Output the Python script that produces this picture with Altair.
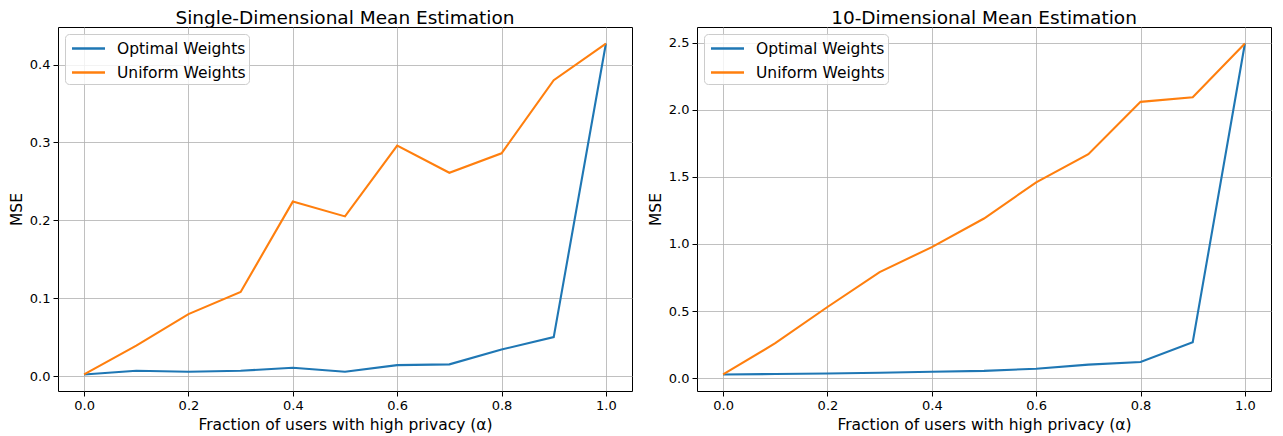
import altair as alt
import pandas as pd

# ---- data ----
alpha = [0.0, 0.1, 0.2, 0.3, 0.4, 0.5, 0.6, 0.7, 0.8, 0.9, 1.0]
single_optimal = [0.002, 0.0068, 0.0055, 0.0068, 0.0106, 0.0055, 0.014, 0.015, 0.034, 0.050, 0.427]
single_uniform = [0.002, 0.039, 0.0795, 0.108, 0.224, 0.205, 0.296, 0.261, 0.286, 0.380, 0.427]
multi_optimal = [0.027, 0.030, 0.034, 0.040, 0.047, 0.054, 0.070, 0.100, 0.120, 0.267, 2.495]
multi_uniform = [0.027, 0.26, 0.53, 0.79, 0.977, 1.19, 1.46, 1.67, 2.06, 2.095, 2.495]

series_names = ["Optimal Weights", "Uniform Weights"]
series_colors = ["#1f77b4", "#ff7f0e"]
x_ticks = [0.0, 0.2, 0.4, 0.6, 0.8, 1.0]
single_y_ticks = [0.0, 0.1, 0.2, 0.3, 0.4]
multi_y_ticks = [0.0, 0.5, 1.0, 1.5, 2.0, 2.5]
titles = ["Single-Dimensional Mean Estimation", "10-Dimensional Mean Estimation"]
x_title = "Fraction of users with high privacy (α)"
y_title = "MSE"

FONT = "DejaVu Sans"


def make_df(opt, uni):
    rows = []
    for a, v in zip(alpha, opt):
        rows.append({"alpha": a, "mse": v, "series": series_names[0]})
    for a, v in zip(alpha, uni):
        rows.append({"alpha": a, "mse": v, "series": series_names[1]})
    return pd.DataFrame(rows)


def padded(values):
    lo, hi = min(values), max(values)
    m = (hi - lo) * 0.05
    return [lo - m, hi + m]


def panel(opt, uni, title, yticks):
    df = make_df(opt, uni)
    ydom = padded(opt + uni)
    xdom = padded(alpha)
    return alt.Chart(
        df,
        title=alt.Title(title, fontSize=18.5, font=FONT, fontWeight="normal",
                        color="#000000", offset=0),
    ).mark_line(strokeWidth=2.1).encode(
        x=alt.X("alpha:Q",
                scale=alt.Scale(domain=xdom, nice=False, zero=False),
                axis=alt.Axis(values=x_ticks, format=".1f", title=x_title)),
        y=alt.Y("mse:Q",
                scale=alt.Scale(domain=ydom, nice=False, zero=False),
                axis=alt.Axis(values=yticks, format=".1f", title=y_title)),
        color=alt.Color("series:N",
                        scale=alt.Scale(domain=series_names, range=series_colors),
                        title=None,
                        legend=alt.Legend(orient="top-left", offset=7,
                                          symbolType="M-1.65,0H1.65",
                                          symbolSize=400,
                                          symbolStrokeWidth=2.6,
                                          symbolOffset=9,
                                          labelFontSize=15.5, labelFont=FONT,
                                          labelColor="#000000",
                                          fillColor="rgba(255,255,255,0.8)",
                                          strokeColor="#cccccc",
                                          cornerRadius=4, padding=3,
                                          rowPadding=4, labelOffset=17)),
        order=alt.Order("alpha:Q"),
    ).properties(width=574, height=364)


left = panel(single_optimal, single_uniform, titles[0], single_y_ticks)
right = panel(multi_optimal, multi_uniform, titles[1], multi_y_ticks)

chart = alt.hconcat(left, right, spacing=14).resolve_scale(
    color="independent", y="independent"
).resolve_legend(color="independent").properties(
    padding={"left": 0, "top": 0, "right": 0, "bottom": 0}
).configure_axis(
    labelFont=FONT, titleFont=FONT, labelFontSize=13, titleFontSize=15.5,
    titleFontWeight="normal", labelColor="#000000", titleColor="#000000",
    gridColor="#b0b0b0", gridWidth=0.8, tickColor="#000000", tickSize=5,
    labelPadding=3, titlePadding=5, domain=False,
).configure_view(
    stroke="#000000", strokeWidth=1,
)

chart.save("out.html", embed_options={"renderer": "svg", "actions": False})
